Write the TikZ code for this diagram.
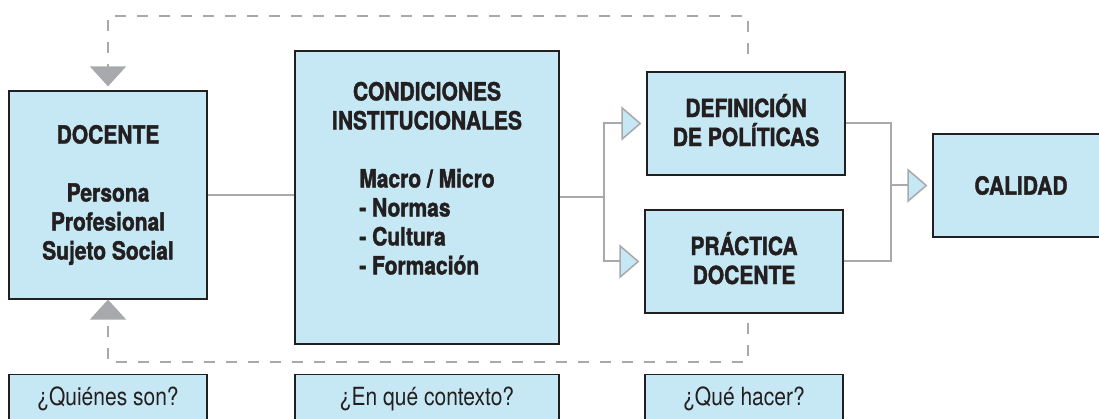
\documentclass[tikz,border=0pt]{standalone}
\usepackage{fontspec}
\setmainfont{TeX Gyre Heros}[FakeStretch=0.84, BoldFeatures={FakeBold=1.6}]
\usepackage{xcolor}
\usepackage{tikz}
\usetikzlibrary{arrows.meta}
\definecolor{boxblue}{RGB}{198, 232, 244}
\definecolor{linegray}{RGB}{167, 169, 172}
\definecolor{ink}{RGB}{35, 31, 32}
\tikzstyle{block} = [rectangle, draw=ink, fill=boxblue, line width=1.2pt, text=ink, align=center, font=\fontsize{25}{29}\selectfont\bfseries]
\tikzstyle{question} = [rectangle, draw=ink, fill=boxblue, line width=1.2pt, text=ink, anchor=north, minimum height=60pt, text height=17pt, text depth=15pt, font=\fontsize{25}{29}\selectfont]
\tikzstyle{link} = [draw=linegray, line width=2pt]
\tikzstyle{arrow} = [link, -{Triangle[length=20pt, width=34pt, fill=boxblue, line width'=1.5pt]}, shorten >=5pt]
\tikzstyle{feedback} = [draw=linegray, line width=2pt, dash pattern=on 11pt off 11pt, -{Triangle[length=20pt, width=36pt]}]

\begin{document}
\begin{tikzpicture}[x=1pt, y=-1pt]
    \useasboundingbox (0, 0) rectangle (1099, 419);
    \clip (0, 0) rectangle (1099, 419);

    % Docente
    \node[block, minimum width=198pt, minimum height=208pt] (docente) at (108, 195) {DOCENTE\\[29pt]Persona\\Profesional\\Sujeto Social};

    % Condiciones institucionales
    \node[block, minimum width=264pt, minimum height=293pt] (cond) at (427, 197.5) {CONDICIONES\\INSTITUCIONALES\\[29pt]\begin{tabular}[t]{@{}l@{}}Macro / Micro\\- Normas\\- Cultura\\- Formación\\[30pt]\end{tabular}};

    % Politicas y practica
    \node[block, minimum width=198pt, minimum height=103pt, text depth=7pt] (defin) at (746, 123.5) {DEFINICIÓN\\DE POLÍTICAS};
    \node[block, minimum width=198pt, minimum height=103pt, text depth=7pt] (practica) at (744, 261.5) {PRÁCTICA\\DOCENTE};

    % Calidad
    \node[block, minimum width=176pt, minimum height=103pt] (calidad) at (1021, 185.5) {CALIDAD};

    % Preguntas
    \node[question, minimum width=198pt] (quienes) at (108, 374) {¿Quiénes son?};
    \node[question, minimum width=264pt] (contexto) at (427, 374) {¿En qué contexto?};
    \node[question, minimum width=198pt] (hacer) at (744, 374) {¿Qué hacer?};

    % Connections
    \draw[link] (docente.east) -- (docente.east -| cond.west);
    \draw[arrow] (cond.east) -- ++(44, 0) |- (defin.west);
    \draw[arrow] (cond.east) -- ++(44, 0) |- (practica.west);
    \draw[link] (defin.east) -- ++(45, 0) coordinate (join) |- (practica.east);
    \draw[arrow] (join |- calidad.west) -- (calidad.west);

    % Feedback
    \draw[feedback, shorten <=17pt, shorten >=4pt] ([xshift=2pt]defin.north) -- ++(0, -55) -| (docente.north);
    \draw[feedback, shorten <=9pt] ([xshift=4pt]practica.south) -- ++(0, 48) -| (docente.south);
\end{tikzpicture}
\end{document}
